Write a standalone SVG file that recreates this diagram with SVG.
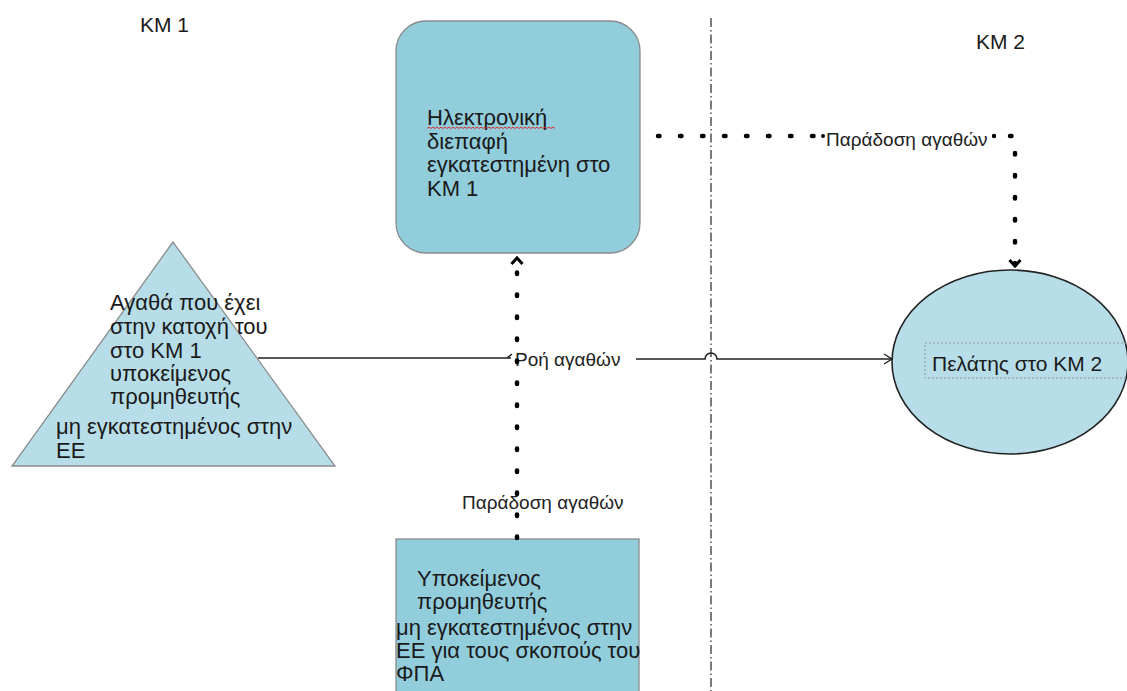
<svg xmlns="http://www.w3.org/2000/svg" width="1127" height="691" viewBox="0 0 1127 691">
<style>
.t{font-family:"Liberation Sans",Arial,sans-serif;font-size:21px;fill:#1a1a1a}
.b{font-size:22px}
.l{font-family:"Liberation Sans",Arial,sans-serif;font-size:19px;fill:#222}
.dot{fill:none;stroke:#000;stroke-width:4.5;stroke-linecap:round;stroke-dasharray:1.5 20.5}
.solid{fill:none;stroke:#222;stroke-width:1.6}
</style>
<defs>
<marker id="open" markerWidth="14" markerHeight="14" refX="10" refY="7" orient="auto" markerUnits="userSpaceOnUse">
<path d="M2,2 L10,7 L2,12" fill="none" stroke="#222" stroke-width="1.4"/>
</marker>
<marker id="chev" markerWidth="16" markerHeight="16" refX="11" refY="8" orient="auto" markerUnits="userSpaceOnUse">
<path d="M5,2.5 L11,8 L5,13.5" fill="none" stroke="#000" stroke-width="3"/>
</marker>
</defs>
<rect width="1127" height="691" fill="#fff"/>

<g id="boundary">
<line x1="711" y1="18" x2="711" y2="691" stroke="#444" stroke-width="1.4" stroke-dasharray="9 3 1.5 3"/>
</g>

<g id="labels-km">
<text class="t" x="140" y="32">ΚΜ 1</text>
<text class="t" x="976" y="49">ΚΜ 2</text>
</g>

<g id="interface">
<rect x="396" y="21" width="244" height="232" rx="30" ry="30" fill="#92cddc" stroke="#8a8a8a" stroke-width="1.3"/>
<text class="t b" x="427" y="125">Ηλεκτρονική</text>
<path d="M427,128.5 l2,-1.5 l2,1.5 l2,-1.5 l2,1.5 l2,-1.5 l2,1.5 l2,-1.5 l2,1.5 l2,-1.5 l2,1.5 l2,-1.5 l2,1.5 l2,-1.5 l2,1.5 l2,-1.5 l2,1.5 l2,-1.5 l2,1.5 l2,-1.5 l2,1.5 l2,-1.5 l2,1.5 l2,-1.5 l2,1.5 l2,-1.5 l2,1.5 l2,-1.5 l2,1.5 l2,-1.5 l2,1.5 l2,-1.5 l2,1.5 l2,-1.5 l2,1.5 l2,-1.5 l2,1.5 l2,-1.5 l2,1.5 l2,-1.5 l2,1.5 l2,-1.5 l2,1.5 l2,-1.5 l2,1.5 l2,-1.5 l2,1.5 l2,-1.5 l2,1.5 l2,-1.5 l2,1.5 l2,-1.5 l2,1.5 l2,-1.5 l2,1.5 l2,-1.5 l2,1.5 l2,-1.5 l2,1.5 l2,-1.5 l2,1.5 l2,-1.5 l2,1.5 l2,-1.5 l2,1.5" fill="none" stroke="#e02020" stroke-width="0.9"/>
<text class="t b" x="427" y="149">διεπαφή</text>
<text class="t b" x="427" y="172">εγκατεστημένη στο</text>
<text class="t b" x="427" y="196">ΚΜ 1</text>
</g>

<g id="goods">
<polygon points="173,242 12,466 335,466" fill="#b7dee8" stroke="#8a8a8a" stroke-width="1.3"/>
<text class="t b" x="110" y="310">Αγαθά που έχει</text>
<text class="t b" x="110" y="334">στην κατοχή του</text>
<text class="t b" x="110" y="358">στο ΚΜ 1</text>
<text class="t b" x="110" y="381">υποκείμενος</text>
<text class="t b" x="110" y="404">προμηθευτής</text>
<text class="t b" x="56" y="434">μη εγκατεστημένος στην</text>
<text class="t b" x="56" y="458">ΕΕ</text>
</g>

<g id="customer">
<ellipse cx="1010" cy="362" rx="118" ry="92" fill="#b7dee8" stroke="#222" stroke-width="1.6"/>
<rect x="925" y="343" width="205" height="35" fill="none" stroke="#999" stroke-width="1" stroke-dasharray="2 2"/>
<text class="t" x="932" y="371">Πελάτης στο ΚΜ 2</text>
</g>

<g id="supplier">
<rect x="396" y="539" width="243" height="160" fill="#92cddc" stroke="#8a8a8a" stroke-width="1.3"/>
<text class="t b" x="417" y="586">Υποκείμενος</text>
<text class="t b" x="417" y="609">προμηθευτής</text>
<text class="t b" x="396" y="635">μη εγκατεστημένος στην</text>
<text class="t b" x="396" y="658">ΕΕ για τους σκοπούς του</text>
<text class="t b" x="396" y="681">ΦΠΑ</text>
</g>

<g id="connectors">
<path class="solid" d="M258,358 L511,358 M507,358 L512,354"/>
<path class="solid" d="M636,359 L705,359 A6,6 0 0 1 717,359 L892,359" marker-end="url(#open)"/>
<text class="l" x="515" y="366">Ροή αγαθών</text>
<path class="dot" d="M658,136 L1015,136 L1015,266" marker-end="url(#chev)"/>
<rect x="822" y="124" width="172" height="26" fill="#fff"/>
<text class="l" x="826" y="146">Παράδοση αγαθών</text>
<circle cx="823" cy="136" r="2" fill="#000"/>
<circle cx="994" cy="136" r="2.2" fill="#000"/>
<path class="dot" d="M517,538 L517,258" marker-end="url(#chev)"/>
<text class="l" x="462" y="509">Παράδοση αγαθών</text>
</g>
</svg>
